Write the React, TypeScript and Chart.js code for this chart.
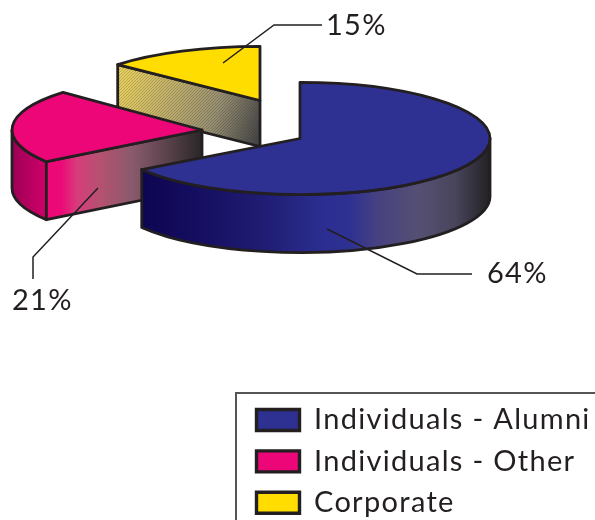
import React, { useEffect, useRef } from "react";
import { Chart, registerables } from "chart.js";

Chart.register(...registerables);

const categories = ["Individuals - Alumni", "Individuals - Other", "Corporate"];
const values = [64, 21, 15];
const topColors = ["#2e3192", "#ed0677", "#ffdd00"];

const INK = "#231f20";
const FONT = "Lato";
const SPACING = "1.3px";
const squashes = [0.295, 0.291, 0.285];
const RADIUS = 190;
const centers = [[300, 138.5], [202, 130], [260, 100.5]];
const depths = [58, 58, 46];
// the reference's projection shifts the slice boundaries a little
const startNudge = [0, 4.6, 5.5];
const endNudge = [6, 7, 0];
const leaders = [
  [[327, 229], [417, 274], [472, 274]],
  [[98, 188], [33, 257], [33, 279]],
  [[223, 63], [274, 25], [322, 25]],
];
const labelAnchors = [[487, 283], [12, 310], [326, 35]];

function hatchPattern(ctx: CanvasRenderingContext2D) {
  const c = document.createElement("canvas");
  c.width = 3;
  c.height = 3;
  const p = c.getContext("2d") as CanvasRenderingContext2D;
  p.fillStyle = "rgba(35,31,32,0.22)";
  p.fillRect(0, 2, 1, 1);
  p.fillRect(1, 1, 1, 1);
  p.fillRect(2, 0, 1, 1);
  return ctx.createPattern(c, "repeat");
}

const pie3d = {
  id: "pie3d",
  afterDatasetsUpdate(chart: any) {
    const arcs = chart.getDatasetMeta(0).data;
    arcs.forEach((arc: any, i: number) => {
      arc.x = centers[i][0];
      arc.y = centers[i][1] / squashes[i];
      arc.startAngle += (startNudge[i] * Math.PI) / 180;
      arc.endAngle += (endNudge[i] * Math.PI) / 180;
      arc.circumference = arc.endAngle - arc.startAngle;
    });
  },
  beforeDatasetDraw(chart: any) {
    const ctx = chart.ctx;
    const arcs = chart.getDatasetMeta(0).data;
    const pt = (i: number, a: number) => [
      centers[i][0] + RADIUS * Math.cos(a),
      centers[i][1] + RADIUS * squashes[i] * Math.sin(a),
    ];
    const grad = (x0: number, y0: number, x1: number, y1: number, stops: [number, string][]) => {
      const g = ctx.createLinearGradient(x0, y0, x1, y1);
      stops.forEach(([o, c]) => g.addColorStop(o, c));
      return g;
    };
    const wallStyles: any[] = [
      grad(141, 0, 490, 0, [
        [0, "#0d0650"], [0.1, "#120a5a"], [0.35, "#1f1c72"], [0.52, "#2b2e90"], [0.6, "#2e3192"],
        [0.68, "#474280"], [0.8, "#555072"], [0.9, "#48455c"], [1, "#232124"],
      ]),
      grad(12, 0, 46, 0, [[0, "#9c0056"], [1, "#d00068"]]),
    ];
    const cutStyles: any[] = [
      null,
      grad(46, 0, 202, 0, [
        [0, "#ed0677"], [0.1, "#ec0a78"], [0.2, "#d63d7c"], [0.35, "#b45270"],
        [0.55, "#8a5a6c"], [0.8, "#554048"], [1, "#2a2627"],
      ]),
      grad(118, 70, 262, 125, [
        [0, "#ecd35c"], [0.4, "#bdad6c"], [0.7, "#968e70"], [1, "#484848"],
      ]),
    ];
    ctx.save();
    ctx.lineJoin = "round";
    ctx.strokeStyle = INK;
    ctx.lineWidth = 2.8;
    [2, 1, 0].forEach((i) => {
      const arc = arcs[i];
      const [cx, cy] = centers[i];
      const rx = RADIUS;
      const ry = RADIUS * squashes[i];
      const d = depths[i];
      const a0 = Math.max(arc.startAngle, 0);
      const a1 = Math.min(arc.endAngle, Math.PI);
      if (a1 > a0) {
        ctx.beginPath();
        ctx.ellipse(cx, cy, rx, ry, 0, a0, a1);
        ctx.ellipse(cx, cy + d, rx, ry, 0, a1, a0, true);
        ctx.closePath();
        ctx.fillStyle = wallStyles[i];
        ctx.fill();
        ctx.stroke();
      }
      if (cutStyles[i]) {
        const [px, py] = pt(i, arc.startAngle);
        ctx.beginPath();
        ctx.moveTo(cx, cy);
        ctx.lineTo(px, py);
        ctx.lineTo(px, py + d);
        ctx.lineTo(cx, cy + d);
        ctx.closePath();
        ctx.fillStyle = cutStyles[i];
        ctx.fill();
        if (i === 2) {
          ctx.fillStyle = hatchPattern(ctx);
          ctx.fill();
        }
        ctx.stroke();
      }
      ctx.save();
      ctx.scale(1, squashes[i]);
      arc.draw(ctx);
      ctx.restore();
      ctx.beginPath();
      ctx.moveTo(cx, cy);
      ctx.ellipse(cx, cy, rx, ry, 0, arc.startAngle, arc.endAngle);
      ctx.closePath();
      ctx.stroke();
    });
    ctx.restore();
    return false;
  },
  afterDraw(chart: any) {
    const ctx = chart.ctx;
    ctx.save();
    ctx.strokeStyle = INK;
    ctx.lineWidth = 1.5;
    leaders.forEach((line) => {
      ctx.beginPath();
      line.forEach(([x, y], j) => (j ? ctx.lineTo(x, y) : ctx.moveTo(x, y)));
      ctx.stroke();
    });
    ctx.fillStyle = INK;
    ctx.font = `29px ${FONT}`;
    ctx.textAlign = "left";
    ctx.textBaseline = "alphabetic";
    values.forEach((v, i) => ctx.fillText(`${v}%`, labelAnchors[i][0], labelAnchors[i][1]));
    ctx.strokeStyle = "#555";
    ctx.lineWidth = 2;
    ctx.strokeRect(236, 393, 400, 200);
    ctx.restore();
  },
  beforeDraw(chart: any) {
    (chart.ctx as any).letterSpacing = SPACING;
    const l = chart.legend;
    l.left = 244.1;
    l.top = 393.1;
    l.right = 640;
    l.bottom = 640;
  },
};

export default function App() {
  const ref = useRef<HTMLCanvasElement | null>(null);
  useEffect(() => {
    const chart = new Chart(ref.current as HTMLCanvasElement, {
      type: "pie",
      data: {
        labels: categories,
        datasets: [{ data: values, backgroundColor: topColors, borderWidth: 0 }],
      },
      options: {
        responsive: false,
        animation: false,
        radius: RADIUS,
        events: [],
        plugins: {
          tooltip: { enabled: false },
          legend: {
            position: "right",
            align: "start",
            labels: {
              boxWidth: 43,
              boxHeight: 21,
              padding: 12.4,
              color: INK,
              font: { family: FONT, size: 29 },
              generateLabels: (c: any) =>
                Chart.overrides.pie.plugins.legend.labels
                  .generateLabels(c)
                  .map((it: any) => ({ ...it, strokeStyle: INK, lineWidth: 3.4 })),
            },
          },
        },
      } as any,
      plugins: [pie3d],
    });
    return () => chart.destroy();
  }, []);
  return (
    <div style={{ position: "absolute", left: 0, top: 0, width: 595, height: 520, overflow: "hidden" }}>
      <canvas ref={ref} width={595} height={520} style={{ display: "block" }} />
    </div>
  );
}
